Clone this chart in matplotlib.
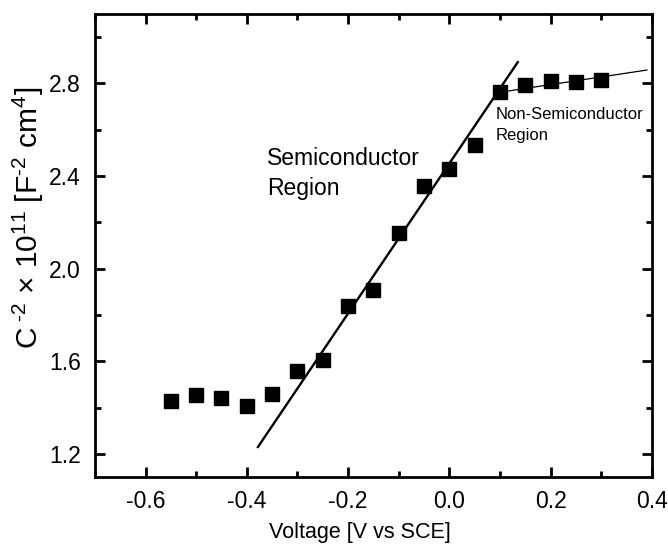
import matplotlib
matplotlib.use("Agg")
import matplotlib.pyplot as plt
from matplotlib.ticker import MultipleLocator

plt.rcParams['font.family'] = ['Liberation Sans', 'DejaVu Sans']
plt.rcParams['mathtext.fontset'] = 'custom'
plt.rcParams['mathtext.rm'] = 'Liberation Sans'
plt.rcParams['mathtext.it'] = 'Liberation Sans:italic'

# measured Mott-Schottky points
voltage = [-0.55, -0.50, -0.45, -0.40, -0.35, -0.30, -0.25, -0.20, -0.15,
           -0.10, -0.05, 0.00, 0.05, 0.10, 0.15, 0.20, 0.25, 0.30]
c_inv2 = [1.43, 1.455, 1.442, 1.406, 1.457, 1.56, 1.607, 1.84, 1.91,
          2.155, 2.355, 2.432, 2.535, 2.762, 2.793, 2.81, 2.806, 2.814]

# linear fit through semiconductor region
fit_v = [-0.378, 0.135]
fit_c = [1.23, 2.892]
# line through non-semiconductor region
flat_v = [0.10, 0.39]
flat_c = [2.762, 2.858]

fig = plt.figure(figsize=(6.68, 5.49), dpi=100)
ax = fig.add_axes([0.142, 0.131, 0.834, 0.8435])

ax.plot(fit_v, fit_c, color='black', lw=1.7)
ax.plot(flat_v, flat_c, color='black', lw=0.9)
ax.plot(voltage, c_inv2, 's', color='black', ms=9.5, zorder=3)

ax.set_xlim(-0.7, 0.4)
ax.set_ylim(1.1, 3.1)
ax.xaxis.set_minor_locator(MultipleLocator(0.1))
ax.yaxis.set_minor_locator(MultipleLocator(0.2))
ax.set_xticks([-0.6, -0.4, -0.2, 0.0, 0.2, 0.4])
ax.set_xticklabels(['-0.6', '-0.4', '-0.2', '0.0', '0.2', '0.4'])
ax.set_yticks([1.2, 1.6, 2.0, 2.4, 2.8])
ax.set_yticklabels(['1.2', '1.6', '2.0', '2.4', '2.8'])

for s in ax.spines.values():
    s.set_linewidth(2)
ax.tick_params(which='both', direction='in', top=True, right=True, labelsize=16.5)
ax.tick_params(axis='y', pad=10)
ax.tick_params(axis='x', pad=9)
ax.tick_params(which='major', length=7, width=2)
ax.tick_params(which='minor', length=4, width=2)

ax.set_xlabel('Voltage [V vs SCE]', fontsize=15.5, labelpad=7)
ax.xaxis.label.set_x(0.476)
ax.set_ylabel('C$^{\\ \u20102}$ $\\times$ 10$^{11}$ [F$^{\u20102}$ cm$^{4}$]',
              fontsize=21.5, labelpad=2)
ax.yaxis.label.set_y(0.56)

ax.text(-0.36, 2.525, 'Semiconductor\nRegion', fontsize=16.5, va='top', ha='left',
        linespacing=1.4)
ax.text(0.091, 2.70, 'Non-Semiconductor\nRegion', fontsize=12, va='top', ha='left',
        linespacing=1.5)

fig.savefig('out.png', dpi=100)
